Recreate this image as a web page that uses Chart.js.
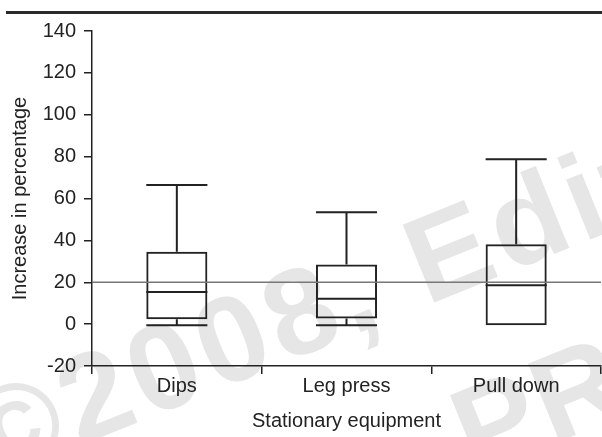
<!DOCTYPE html>
<html>
<head>
<meta charset="utf-8">
<script src="https://cdn.jsdelivr.net/npm/chart.js@4/dist/chart.umd.min.js"></script>
<style>
  html, body { margin: 0; padding: 0; background: #ffffff; }
  #wrap { position: relative; width: 602px; height: 437px; }
</style>
</head>
<body>
<div id="wrap"><canvas id="c" width="602" height="437"></canvas></div>
<script>
// ---- data ----
const categories = ['Dips', 'Leg press', 'Pull down'];
const whiskerMin = [-0.5, -0.5, -0.5];
const quartile1 = [2.3, 2.7, -0.5];
const medians = [15.4, 12.1, 18.6];
const quartile3 = [34.6, 28.5, 38.1];
const whiskerMax = [66.5, 53.4, 78.8];
const yTickValues = [-20, 0, 20, 40, 60, 80, 100, 120, 140];
const referenceValue = 20;
const yTitle = 'Increase in percentage';
const xTitle = 'Stationary equipment';
const watermarkLine1 = '©2008, Edit';
const watermarkLine2 = ['P', 'R'];

const INK = '#222222';
const FONT = "'Liberation Sans', Arial, Helvetica, sans-serif";
const FS = 20;

const boxData = quartile1.map((v, i) => [v, quartile3[i]]);

const extras = {
  id: 'boxExtras',
  beforeDraw(chart) {
    const ctx = chart.ctx;
    ctx.save();
    ctx.fillStyle = '#e6e6e6';
    ctx.font = 'bold 122px ' + FONT;
    ctx.letterSpacing = '6px';
    ctx.textBaseline = 'alphabetic';
    ctx.translate(-10, 482);
    ctx.rotate(-22 * Math.PI / 180);
    ctx.fillText(watermarkLine1, 0, 0);
    ctx.restore();
    ctx.save();
    ctx.fillStyle = '#e6e6e6';
    ctx.font = 'bold 122px ' + FONT;
    ctx.translate(474, 476);
    ctx.rotate(-22 * Math.PI / 180);
    ctx.fillText(watermarkLine2[0], 0, 0);
    ctx.fillText(watermarkLine2[1], 84, 0);
    ctx.restore();
    ctx.save();
    ctx.strokeStyle = '#2a2a2a';
    ctx.lineWidth = 3;
    ctx.beginPath();
    ctx.moveTo(6, 12.5);
    ctx.lineTo(602, 12.5);
    ctx.stroke();
    ctx.restore();
  },
  afterDatasetsDraw(chart) {
    const ctx = chart.ctx;
    const ys = chart.scales.y;
    const area = chart.chartArea;
    const meta = chart.getDatasetMeta(0);
    ctx.save();
    ctx.strokeStyle = '#777777';
    ctx.lineWidth = 1.5;
    const yr = ys.getPixelForValue(referenceValue);
    ctx.beginPath();
    ctx.moveTo(area.left, yr);
    ctx.lineTo(area.right, yr);
    ctx.stroke();
    ctx.strokeStyle = INK;
    ctx.lineWidth = 2;
    meta.data.forEach((bar, i) => {
      const x = bar.x, hw = bar.width / 2;
      const yMed = ys.getPixelForValue(medians[i]);
      const yQ1 = ys.getPixelForValue(quartile1[i]);
      const yQ3 = ys.getPixelForValue(quartile3[i]);
      const yMin = ys.getPixelForValue(whiskerMin[i]);
      const yMax = ys.getPixelForValue(whiskerMax[i]);
      ctx.beginPath();
      ctx.moveTo(x - hw, yMed); ctx.lineTo(x + hw, yMed);
      ctx.moveTo(x, yQ3); ctx.lineTo(x, yMax);
      ctx.moveTo(x - hw, yMax); ctx.lineTo(x + hw, yMax);
      if (Math.abs(yMin - yQ1) > 1) {
        ctx.moveTo(x, yQ1); ctx.lineTo(x, yMin);
        ctx.moveTo(x - hw, yMin); ctx.lineTo(x + hw, yMin);
      }
      ctx.stroke();
    });
    ctx.restore();
  }
};

new Chart(document.getElementById('c'), {
  type: 'bar',
  data: {
    labels: categories,
    datasets: [{
      data: boxData,
      backgroundColor: 'rgba(0,0,0,0)',
      borderColor: INK,
      borderWidth: 2,
      borderSkipped: false,
      categoryPercentage: 1,
      barPercentage: 0.36
    }]
  },
  options: {
    responsive: false,
    animation: false,
    devicePixelRatio: 1,
    layout: { padding: { top: 31, right: 1, left: 8, bottom: 4 } },
    plugins: { legend: { display: false }, tooltip: { enabled: false } },
    scales: {
      x: {
        offset: true,
        grid: { offset: true, drawOnChartArea: false, drawTicks: true, tickLength: 8, tickColor: INK, lineWidth: 1.5 },
        border: { display: true, color: INK, width: 1.5 },
        ticks: { color: INK, font: { family: FONT, size: FS }, padding: 0, maxRotation: 0 },
        title: { display: true, text: xTitle, color: INK, font: { family: FONT, size: FS }, padding: { top: 0, bottom: 0 } },
        afterFit: s => { s.height = 67; }
      },
      y: {
        min: -20, max: 140,
        afterBuildTicks: s => { s.ticks = yTickValues.map(v => ({ value: v })); },
        grid: { drawOnChartArea: false, drawTicks: true, tickLength: 8, tickColor: INK, lineWidth: 1.5 },
        border: { display: true, color: INK, width: 1.5 },
        ticks: { color: INK, font: { family: FONT, size: FS }, padding: 8 },
        title: { display: true, text: yTitle, color: INK, font: { family: FONT, size: FS }, padding: { top: 0, bottom: 0 } },
        afterFit: s => { s.width = 84; }
      }
    }
  },
  plugins: [extras]
});
</script>
</body>
</html>
